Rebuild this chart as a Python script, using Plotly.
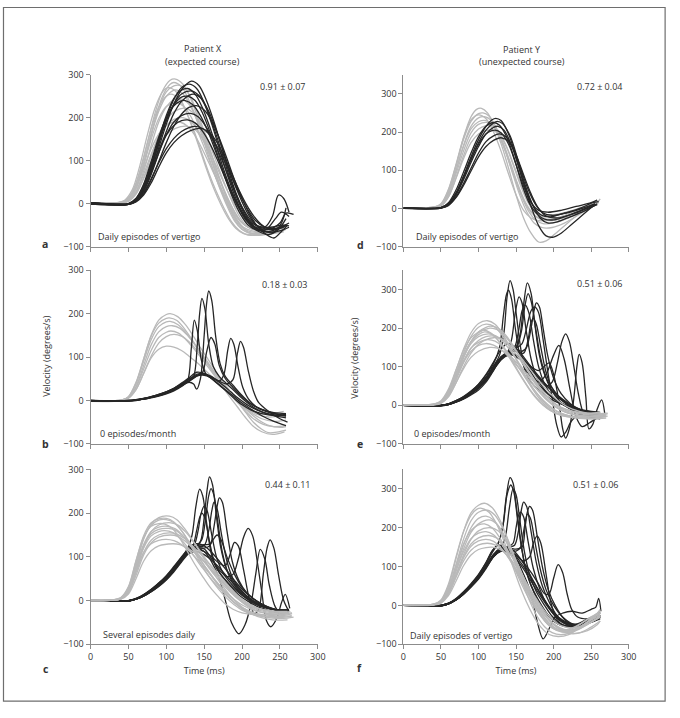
import plotly.graph_objects as go

W, H = 680, 718
def px(x): return x / W
def py(y): return 1 - y / H

GRAY = "#b9b9b9"
BLACK = "#262626"

# Each curve: flat list  t0, v0, t1, v1, ...  (time in ms, velocity in deg/s)
# ---------------- Panel a : Patient X, daily episodes of vertigo ----------------
A_GRAY = [
 [0,2, 35,2, 45,6, 55,25, 65,72, 75,140, 85,210, 95,262, 105,287, 112,290, 122,278, 132,245, 142,198, 152,145, 162,88, 172,35, 182,-8, 192,-42, 202,-62, 212,-70, 230,-70, 245,-66, 256,-62],
 [0,0, 35,1, 45,5, 55,20, 65,60, 75,125, 85,195, 95,250, 105,278, 110,282, 120,272, 130,240, 140,195, 150,142, 160,88, 170,38, 180,-5, 190,-40, 200,-60, 210,-68, 225,-70, 240,-66, 255,-60],
 [0,1, 40,2, 50,8, 60,35, 70,90, 80,160, 90,222, 100,260, 110,274, 118,275, 128,260, 138,225, 148,178, 158,125, 168,70, 178,20, 188,-20, 198,-50, 208,-66, 218,-72, 235,-70, 250,-64, 258,-60],
 [0,-1, 40,2, 50,10, 60,40, 70,95, 80,160, 90,215, 100,250, 112,265, 122,255, 132,228, 142,188, 152,140, 162,88, 172,38, 182,-5, 192,-38, 202,-58, 212,-66, 228,-66, 245,-60, 258,-55],
 [0,2, 40,3, 50,12, 60,48, 70,108, 80,175, 90,225, 100,250, 106,255, 116,245, 126,215, 136,172, 146,122, 156,72, 166,28, 176,-10, 186,-42, 196,-62, 206,-72, 220,-74, 240,-70, 255,-66],
 [0,0, 40,1, 50,6, 60,28, 70,75, 80,135, 90,190, 100,225, 110,242, 118,245, 128,235, 138,208, 148,168, 158,120, 168,70, 178,25, 188,-12, 198,-40, 208,-55, 220,-60, 240,-58, 256,-52],
 [0,1, 40,2, 50,9, 60,36, 70,88, 80,150, 90,198, 100,226, 112,235, 122,228, 132,204, 142,166, 152,122, 162,76, 172,32, 182,-4, 192,-35, 202,-55, 215,-64, 235,-62, 255,-56],
 [0,0, 40,2, 50,7, 60,28, 70,68, 80,115, 90,155, 100,182, 110,196, 122,200, 132,192, 142,170, 152,135, 162,92, 172,48, 182,8, 192,-25, 202,-48, 214,-60, 232,-62, 250,-58, 258,-50],
 [0,2, 40,3, 50,10, 60,38, 70,82, 80,128, 90,162, 100,182, 110,190, 118,190, 128,180, 138,158, 148,125, 158,88, 168,50, 178,15, 188,-18, 198,-42, 210,-56, 228,-60, 248,-55, 258,-50],
 [0,1, 40,1, 50,5, 60,22, 70,60, 80,110, 90,160, 100,195, 112,216, 125,222, 135,212, 145,185, 155,148, 165,102, 175,55, 185,12, 195,-25, 205,-50, 218,-62, 238,-60, 256,-48],
 [0,0, 35,2, 45,8, 55,32, 65,88, 75,160, 85,222, 95,260, 102,270, 112,262, 122,232, 132,188, 142,138, 152,86, 162,38, 172,-2, 182,-35, 192,-58, 202,-70, 215,-73, 235,-70, 252,-66],
 [0,0, 40,2, 50,6, 60,24, 70,58, 80,98, 90,135, 100,160, 112,175, 128,180, 138,172, 148,150, 158,118, 168,80, 178,40, 188,5, 198,-25, 208,-45, 222,-55, 240,-55, 256,-50],
]
A_BLACK = [
 [0,2, 40,-2, 50,-2, 60,8, 70,32, 80,75, 90,130, 100,185, 110,232, 120,265, 133,285, 143,275, 153,240, 163,190, 173,132, 183,72, 193,20, 203,-20, 213,-48, 223,-62, 235,-65, 248,-58, 260,-50],
 [0,0, 40,-3, 50,-1, 60,10, 70,38, 80,85, 90,142, 100,198, 110,243, 120,270, 130,278, 140,268, 150,235, 160,185, 170,128, 180,70, 190,20, 200,-20, 210,-48, 222,-65, 235,-72, 248,-60, 258,-35],
 [0,1, 40,-2, 50,0, 60,12, 70,42, 80,92, 90,150, 100,205, 110,245, 120,264, 128,268, 138,255, 148,222, 158,175, 168,122, 178,68, 188,22, 198,-15, 208,-42, 220,-58, 235,-60, 250,-45, 258,-22, 268,-25],
 [0,-1, 40,-3, 50,-2, 60,6, 70,28, 80,68, 90,118, 100,168, 110,210, 120,238, 130,252, 136,255, 146,245, 156,215, 166,170, 176,118, 186,65, 196,20, 206,-18, 216,-45, 228,-62, 240,-68, 252,-45, 258,-10],
 [0,2, 40,-2, 50,0, 60,12, 70,45, 80,98, 90,155, 100,200, 110,228, 118,238, 125,240, 135,230, 145,205, 155,168, 165,122, 175,75, 185,30, 195,-8, 205,-38, 218,-55, 230,-55, 240,-30, 248,20, 255,12, 262,-20],
 [0,0, 40,-3, 50,-2, 60,5, 70,22, 80,55, 90,98, 100,142, 110,180, 120,208, 130,224, 140,228, 150,218, 160,192, 170,152, 180,105, 190,55, 200,12, 210,-25, 220,-52, 232,-72, 242,-80, 252,-65, 260,-50],
 [0,1, 40,-2, 50,-1, 60,8, 70,32, 80,72, 90,118, 100,160, 110,190, 120,205, 132,210, 142,202, 152,180, 162,148, 172,108, 182,64, 192,22, 202,-14, 212,-40, 225,-56, 240,-60, 255,-55],
 [0,-1, 40,-3, 50,-2, 60,8, 70,35, 80,78, 90,125, 100,160, 110,182, 120,193, 128,195, 138,188, 148,168, 158,138, 168,100, 178,58, 188,18, 198,-15, 208,-38, 220,-52, 238,-55, 252,-50, 262,-52],
 [0,0, 40,-2, 50,-1, 60,6, 70,25, 80,58, 90,95, 100,128, 110,152, 120,168, 130,177, 138,180, 148,175, 158,158, 168,130, 178,95, 188,55, 198,18, 208,-15, 218,-40, 230,-55, 245,-58, 258,-50],
 [0,1, 40,-2, 50,-1, 60,9, 70,36, 80,82, 90,138, 100,192, 110,232, 120,255, 134,262, 144,250, 154,218, 164,170, 174,115, 184,58, 194,10, 204,-28, 214,-52, 226,-64, 240,-66, 252,-62, 262,-55],
 [0,0, 40,-3, 50,-2, 60,4, 70,20, 80,48, 90,85, 100,118, 110,142, 120,158, 132,170, 145,175, 155,168, 165,148, 175,115, 185,75, 195,35, 205,0, 215,-28, 225,-48, 238,-60, 250,-55, 262,-45],
 [0,1, 40,-2, 50,-1, 60,10, 70,40, 80,90, 90,145, 100,195, 110,230, 120,248, 128,250, 138,240, 148,210, 158,165, 168,112, 178,58, 188,12, 198,-25, 208,-50, 220,-62, 232,-60, 244,-35, 252,-20, 262,-30],
]

# ---------------- Panel b : Patient X, 0 episodes/month ----------------
B_GRAY = [
 [0,-2, 40,0, 50,8, 60,40, 70,95, 80,150, 90,185, 100,198, 105,200, 115,193, 125,175, 135,150, 145,122, 155,95, 165,68, 175,42, 185,18, 195,-5, 205,-28, 215,-50, 225,-65, 235,-74, 248,-72, 258,-68],
 [0,0, 40,1, 50,8, 60,38, 70,90, 80,140, 90,170, 100,181, 105,182, 115,175, 125,158, 135,135, 145,110, 155,85, 165,60, 175,38, 185,15, 195,-5, 205,-25, 215,-42, 228,-55, 242,-60, 258,-58],
 [0,-1, 40,0, 50,6, 60,32, 70,80, 80,128, 90,158, 100,170, 108,172, 118,166, 128,150, 138,128, 148,105, 158,80, 168,56, 178,35, 188,14, 198,-4, 208,-20, 220,-32, 235,-38, 250,-35, 258,-30],
 [0,0, 40,1, 50,7, 60,30, 70,72, 80,115, 90,145, 100,157, 106,160, 116,155, 126,140, 136,120, 146,98, 156,75, 166,52, 176,30, 186,10, 196,-8, 208,-22, 222,-30, 240,-30, 255,-25],
 [0,-2, 40,0, 50,5, 60,25, 70,62, 80,102, 90,132, 100,147, 110,152, 120,148, 130,135, 140,116, 150,95, 160,72, 170,50, 180,28, 190,8, 200,-10, 212,-28, 226,-42, 242,-48, 258,-45],
 [0,0, 40,1, 50,6, 60,25, 70,62, 80,98, 90,118, 100,125, 110,123, 120,115, 130,102, 140,88, 150,72, 160,55, 170,38, 180,22, 190,5, 200,-12, 210,-28, 222,-45, 236,-58, 250,-62, 258,-60],
 [0,-1, 40,0, 50,9, 60,42, 70,95, 80,148, 90,178, 100,189, 104,190, 114,184, 124,165, 134,140, 144,112, 154,85, 164,58, 174,32, 184,8, 194,-15, 204,-38, 214,-58, 226,-72, 240,-78, 256,-72],
]
B_BLACK = [
 [0,-2, 40,-1, 50,-1, 60,1, 70,3, 80,6, 90,10, 100,15, 110,22, 120,32, 128,45, 133,120, 137,185, 141,160, 146,95, 152,62, 160,50, 170,35, 180,20, 190,4, 200,-10, 212,-22, 226,-30, 242,-34, 258,-32],
 [0,-1, 40,-1, 50,0, 60,1, 70,4, 80,8, 90,12, 100,18, 110,26, 120,36, 130,45, 136,55, 141,130, 144,200, 147,235, 151,210, 156,130, 162,78, 170,55, 180,38, 190,22, 200,5, 212,-12, 226,-26, 242,-35, 258,-40],
 [0,0, 40,-2, 50,-1, 60,0, 70,3, 80,7, 90,11, 100,17, 110,25, 120,35, 130,42, 136,38, 140,26, 145,50, 150,150, 153,220, 156,252, 160,230, 165,150, 171,85, 178,55, 188,35, 198,15, 210,-5, 225,-20, 242,-30, 258,-35],
 [0,-1, 40,-2, 50,-1, 60,1, 70,4, 80,8, 90,12, 100,18, 110,27, 120,38, 130,50, 140,58, 148,65, 153,110, 159,145, 164,130, 170,80, 178,50, 188,30, 198,12, 210,-6, 225,-20, 242,-28, 258,-30],
 [0,0, 40,-1, 50,0, 60,2, 70,5, 80,9, 90,14, 100,20, 110,28, 120,38, 130,48, 140,60, 150,62, 160,55, 170,45, 176,60, 181,115, 185,143, 189,130, 195,75, 201,30, 210,0, 222,-18, 238,-28, 258,-35],
 [0,-1, 40,-2, 50,-1, 60,1, 70,3, 80,7, 90,11, 100,17, 110,24, 120,34, 130,45, 140,56, 150,58, 160,52, 170,44, 180,38, 188,48, 194,110, 198,136, 202,122, 208,70, 215,22, 222,-5, 235,-25, 250,-42, 260,-50],
 [0,0, 40,-2, 50,-1, 60,1, 70,4, 80,8, 90,13, 100,20, 110,28, 120,40, 130,52, 140,65, 150,62, 160,50, 170,36, 180,22, 190,8, 200,-6, 212,-20, 226,-35, 242,-48, 258,-58],
 [0,-2, 40,-1, 50,0, 60,2, 70,5, 80,9, 90,14, 100,20, 110,26, 120,34, 130,44, 145,60, 155,58, 165,48, 175,35, 185,20, 195,5, 207,-10, 220,-22, 238,-32, 258,-36],
]

# ---------------- Panel c : Patient X, several episodes daily ----------------
C_GRAY = [
 [0,0, 30,1, 40,5, 50,25, 60,80, 70,140, 80,175, 90,190, 104,193, 114,185, 124,165, 134,140, 144,112, 154,84, 164,58, 174,34, 184,12, 194,-6, 206,-22, 220,-34, 240,-40, 260,-40, 268,-38],
 [0,1, 30,2, 40,6, 50,28, 60,85, 70,142, 80,172, 90,184, 100,185, 110,178, 120,160, 130,135, 140,108, 150,80, 160,55, 170,32, 180,12, 190,-5, 202,-20, 218,-32, 238,-38, 258,-38, 266,-35],
 [0,0, 30,1, 40,4, 50,20, 60,68, 70,122, 80,158, 90,173, 106,178, 116,172, 126,156, 136,134, 146,110, 156,85, 166,62, 176,40, 186,20, 196,2, 208,-14, 224,-26, 244,-32, 262,-30],
 [0,1, 30,2, 40,6, 50,26, 60,78, 70,128, 80,158, 90,168, 102,170, 112,164, 122,148, 132,125, 142,100, 152,76, 162,52, 172,30, 182,10, 192,-8, 204,-24, 220,-36, 240,-44, 260,-44],
 [0,0, 30,1, 40,5, 50,24, 60,74, 70,120, 80,148, 90,158, 98,160, 108,156, 118,142, 128,122, 138,98, 148,74, 158,52, 168,32, 178,14, 188,-2, 200,-16, 216,-28, 236,-34, 256,-34, 266,-30],
 [0,1, 30,1, 40,4, 50,18, 60,58, 70,104, 80,132, 90,145, 105,150, 115,147, 125,136, 135,120, 145,100, 155,80, 165,60, 175,40, 185,22, 195,6, 207,-10, 222,-22, 242,-28, 262,-28],
 [0,0, 30,1, 40,5, 50,22, 60,68, 70,110, 80,130, 90,138, 100,140, 110,137, 120,128, 130,114, 140,96, 150,76, 160,56, 170,36, 180,18, 190,2, 202,-12, 218,-24, 238,-30, 258,-30, 266,-28],
 [0,0, 30,1, 40,3, 50,15, 60,50, 70,90, 80,114, 90,125, 108,130, 118,128, 128,120, 138,108, 148,92, 158,74, 168,56, 178,38, 188,20, 198,4, 210,-10, 226,-20, 246,-26, 264,-26],
 [0,1, 30,1, 40,6, 50,30, 60,90, 70,148, 80,178, 90,187, 100,188, 110,180, 120,160, 130,132, 140,102, 150,72, 160,46, 170,24, 180,5, 190,-10, 200,-22, 215,-32, 235,-36, 255,-36, 265,-35],
 [0,0, 30,1, 40,5, 50,24, 60,75, 70,125, 80,153, 90,163, 103,165, 113,160, 123,146, 133,126, 143,104, 153,82, 163,60, 173,40, 183,22, 193,6, 205,-8, 220,-18, 240,-24, 260,-25],
 [0,1, 30,2, 40,7, 50,32, 60,92, 70,145, 80,170, 90,176, 98,175, 108,165, 118,142, 128,112, 138,82, 148,55, 158,30, 168,10, 178,-8, 188,-20, 200,-28, 218,-32, 240,-32, 262,-30],
 [0,0, 30,1, 40,4, 50,20, 60,64, 70,110, 80,138, 90,150, 104,155, 114,152, 124,142, 134,126, 144,108, 154,90, 164,70, 174,50, 184,30, 194,12, 206,-4, 222,-18, 242,-26, 262,-28],
]
C_BLACK = [
 [0,0, 40,-2, 50,-1, 60,4, 70,12, 80,24, 90,38, 100,54, 110,74, 120,96, 130,115, 138,122, 145,135, 150,190, 154,255, 157,283, 161,265, 166,195, 172,120, 180,70, 190,40, 200,20, 212,2, 226,-12, 242,-20, 260,-22],
 [0,1, 40,-1, 50,0, 60,5, 70,14, 80,26, 90,40, 100,57, 110,78, 120,100, 128,118, 134,150, 139,215, 144,255, 148,240, 153,180, 159,110, 166,75, 176,50, 186,30, 196,12, 208,-2, 222,-15, 240,-25, 258,-28],
 [0,0, 40,-2, 50,-1, 60,3, 70,11, 80,22, 90,36, 100,52, 110,72, 120,94, 130,112, 140,125, 147,140, 152,190, 156,240, 159,256, 163,240, 168,180, 174,110, 182,60, 192,30, 204,8, 218,-8, 234,-18, 250,-22, 262,-20],
 [0,0, 40,-2, 50,-1, 60,4, 70,13, 80,25, 90,40, 100,56, 110,76, 120,98, 130,115, 140,125, 150,128, 158,130, 163,170, 167,215, 170,235, 174,225, 180,160, 187,90, 196,45, 206,18, 218,0, 232,-14, 248,-22, 262,-22],
 [0,1, 40,-1, 50,0, 60,4, 70,12, 80,23, 90,37, 100,53, 110,73, 120,95, 130,113, 140,122, 150,126, 156,160, 160,205, 163,225, 167,210, 173,150, 180,90, 188,50, 198,25, 210,5, 225,-10, 242,-20, 260,-22],
 [0,0, 40,-2, 50,-1, 60,3, 70,10, 80,21, 90,35, 100,51, 110,70, 120,92, 130,118, 137,128, 142,160, 146,200, 150,216, 154,205, 160,150, 167,95, 176,60, 186,38, 196,20, 208,4, 222,-10, 240,-20, 258,-22],
 [0,0, 40,-2, 50,-1, 60,3, 70,11, 80,22, 90,36, 100,52, 110,72, 120,94, 130,112, 140,120, 150,118, 160,95, 170,70, 180,55, 188,60, 195,95, 202,145, 208,165, 214,148, 220,90, 226,20, 232,-45, 238,-60, 246,-40, 252,-5, 257,14, 263,-18],
 [0,1, 40,-1, 50,0, 60,4, 70,12, 80,24, 90,38, 100,55, 110,75, 120,97, 130,114, 140,120, 150,112, 160,88, 170,50, 178,0, 186,-50, 196,-76, 204,-55, 212,-5, 218,60, 224,117, 230,95, 236,35, 244,-15, 252,-30, 260,-28],
 [0,0, 40,-2, 50,-1, 60,3, 70,10, 80,20, 90,33, 100,48, 110,68, 120,90, 130,110, 140,118, 150,112, 160,100, 170,85, 178,80, 185,110, 190,133, 195,125, 202,70, 210,0, 216,-30, 222,-20, 228,60, 233,120, 237,139, 242,120, 248,60, 255,0, 262,-25],
 [0,0, 40,-2, 50,-1, 60,4, 70,12, 80,24, 90,38, 100,54, 110,74, 120,96, 130,122, 140,130, 150,125, 160,110, 170,90, 180,68, 190,46, 200,26, 212,8, 226,-8, 242,-20, 258,-25],
 [0,1, 40,-1, 50,0, 60,3, 70,10, 80,20, 90,32, 100,47, 110,66, 120,88, 130,108, 140,112, 150,105, 160,92, 170,75, 180,55, 190,36, 200,18, 212,2, 228,-12, 245,-22, 260,-25],
 [0,0, 40,-2, 50,-1, 60,3, 70,11, 80,22, 90,36, 100,52, 110,72, 120,95, 128,112, 135,125, 140,160, 144,190, 147,200, 151,188, 157,135, 164,85, 172,60, 182,40, 194,20, 206,4, 220,-10, 240,-20, 258,-22],
 [0,1, 40,-1, 50,0, 60,4, 70,12, 80,23, 90,37, 100,53, 110,73, 120,95, 130,112, 140,120, 150,120, 157,125, 162,140, 167,150, 172,140, 180,100, 190,60, 200,30, 212,8, 226,-8, 244,-20, 260,-24],
]

# ---------------- Panel d : Patient Y, daily episodes of vertigo ----------------
D_GRAY = [
 [0,2, 40,3, 50,10, 60,45, 70,110, 80,185, 90,240, 98,260, 104,262, 112,250, 120,220, 130,170, 140,105, 150,35, 160,-25, 170,-65, 180,-88, 190,-85, 200,-70, 215,-45, 230,-20, 245,0, 258,10],
 [0,1, 40,3, 50,12, 60,50, 70,115, 80,185, 90,232, 100,245, 110,235, 120,200, 130,150, 140,90, 150,35, 160,-5, 170,-25, 180,-32, 195,-30, 215,-20, 235,-5, 250,8, 260,15],
 [0,0, 40,2, 50,8, 60,38, 70,98, 80,165, 90,215, 100,237, 108,240, 116,232, 126,200, 136,150, 146,92, 156,38, 166,-5, 176,-30, 186,-40, 200,-38, 220,-25, 240,-5, 255,10, 260,20],
 [0,2, 40,3, 50,9, 60,40, 70,100, 80,162, 90,208, 100,227, 110,230, 120,215, 130,178, 140,128, 150,72, 160,22, 170,-10, 180,-25, 195,-28, 215,-18, 235,-2, 250,12, 258,22],
 [0,1, 40,2, 50,6, 60,30, 70,80, 80,138, 90,185, 100,208, 110,217, 116,218, 126,205, 136,168, 146,115, 156,60, 166,15, 176,-12, 186,-22, 200,-20, 220,-10, 240,2, 256,15],
 [0,0, 40,2, 50,7, 60,30, 70,78, 80,130, 90,172, 100,195, 110,204, 118,205, 128,192, 138,158, 148,108, 158,55, 168,12, 178,-12, 188,-18, 205,-15, 225,-5, 245,8, 258,12],
 [0,2, 40,3, 50,11, 60,48, 70,112, 80,180, 90,228, 100,248, 106,250, 114,242, 124,210, 134,160, 144,100, 154,40, 164,-8, 174,-38, 184,-50, 198,-50, 215,-38, 235,-15, 250,5, 260,20],
 [0,1, 40,2, 50,8, 60,35, 70,90, 80,150, 90,198, 100,220, 112,225, 122,212, 132,175, 142,122, 152,65, 162,18, 172,-12, 182,-28, 198,-32, 218,-22, 238,-8, 255,8, 262,25],
]
D_BLACK = [
 [0,1, 40,0, 50,2, 60,12, 70,40, 80,85, 90,135, 100,180, 110,215, 118,232, 123,236, 130,230, 140,195, 150,135, 160,65, 170,5, 180,-45, 190,-72, 200,-75, 210,-65, 225,-40, 240,-15, 252,5, 258,12],
 [0,0, 40,0, 50,2, 60,15, 70,48, 80,95, 90,145, 100,188, 110,215, 120,225, 128,218, 138,185, 148,128, 158,62, 168,12, 178,-15, 188,-28, 200,-30, 220,-18, 240,-2, 255,12],
 [0,1, 40,-1, 50,1, 60,10, 70,35, 80,75, 90,120, 100,162, 110,195, 120,212, 126,215, 134,205, 144,165, 154,105, 164,45, 174,2, 184,-18, 196,-22, 215,-12, 235,0, 252,15, 260,18],
 [0,0, 40,0, 50,2, 60,12, 70,40, 80,82, 90,128, 100,168, 110,195, 122,205, 130,198, 140,168, 150,115, 160,58, 170,15, 180,-5, 192,-10, 210,-5, 230,5, 250,15, 258,22],
 [0,1, 40,0, 50,1, 60,8, 70,30, 80,65, 90,105, 100,145, 110,175, 120,190, 128,195, 136,188, 146,158, 156,105, 166,50, 176,10, 186,-12, 198,-18, 218,-12, 238,0, 255,12],
 [0,0, 40,0, 50,2, 60,12, 70,38, 80,80, 90,128, 100,172, 110,205, 120,224, 125,228, 132,222, 142,190, 152,130, 162,62, 172,10, 182,-25, 192,-38, 205,-35, 222,-22, 240,-8, 256,10],
 [0,1, 40,-1, 50,1, 60,8, 70,28, 80,60, 90,98, 100,135, 110,162, 120,178, 130,185, 140,175, 150,140, 160,88, 170,38, 180,0, 190,-20, 205,-25, 225,-15, 245,0, 258,10],
]

# ---------------- Panel e : Patient Y, 0 episodes/month ----------------
E_GRAY = [
 [0,1, 40,3, 50,10, 60,38, 70,90, 80,145, 90,188, 100,212, 112,219, 122,210, 132,185, 142,150, 152,112, 162,75, 172,42, 182,15, 192,-5, 202,-18, 215,-26, 230,-30, 250,-30, 270,-28],
 [0,0, 40,2, 50,9, 60,34, 70,82, 80,135, 90,178, 100,202, 110,210, 120,205, 130,185, 140,155, 150,120, 160,85, 170,52, 180,25, 190,3, 200,-12, 215,-24, 232,-30, 252,-30, 270,-25],
 [0,1, 40,2, 50,8, 60,30, 70,75, 80,125, 90,165, 100,188, 115,200, 125,196, 135,180, 145,155, 155,125, 165,95, 175,65, 185,38, 195,15, 205,-2, 218,-15, 235,-22, 255,-25, 272,-22],
 [0,0, 40,3, 50,10, 60,36, 70,82, 80,130, 90,165, 100,183, 108,190, 118,184, 128,165, 138,138, 148,105, 158,72, 168,42, 178,18, 188,-2, 198,-16, 210,-26, 228,-32, 250,-33, 270,-30],
 [0,1, 40,2, 50,7, 60,26, 70,65, 80,110, 90,148, 100,168, 110,178, 118,180, 128,175, 138,160, 148,138, 158,110, 168,82, 178,55, 188,30, 198,10, 210,-5, 225,-15, 245,-20, 262,-18],
 [0,0, 40,2, 50,8, 60,30, 70,72, 80,115, 90,148, 100,163, 112,170, 122,166, 132,152, 142,130, 152,102, 162,72, 172,45, 182,22, 192,3, 202,-12, 215,-24, 232,-32, 252,-35, 270,-33],
 [0,1, 40,2, 50,9, 60,32, 70,72, 80,112, 90,140, 100,155, 110,160, 120,156, 130,144, 140,126, 150,105, 160,82, 170,58, 180,36, 190,16, 200,0, 212,-14, 228,-24, 248,-28, 268,-25],
 [0,0, 40,1, 50,6, 60,24, 70,58, 80,95, 90,124, 100,140, 115,150, 125,148, 135,138, 145,122, 155,102, 165,80, 175,58, 185,36, 195,16, 205,0, 218,-12, 235,-20, 255,-22, 272,-20],
 [0,0, 40,2, 50,7, 60,28, 70,70, 80,122, 90,165, 100,190, 110,202, 116,205, 126,200, 136,182, 146,155, 156,122, 166,88, 176,55, 186,28, 196,8, 206,-8, 220,-20, 238,-28, 258,-30, 272,-28],
 [0,1, 40,3, 50,12, 60,42, 70,92, 80,142, 90,175, 100,190, 106,195, 116,188, 126,168, 136,140, 146,108, 156,76, 166,46, 176,20, 186,0, 196,-14, 208,-25, 225,-32, 245,-35, 262,-34],
 [0,0, 40,1, 50,5, 60,22, 70,58, 80,100, 90,135, 100,158, 110,170, 120,175, 130,172, 140,160, 150,140, 160,115, 170,90, 180,65, 190,42, 200,22, 210,6, 225,-10, 245,-20, 265,-22],
 [0,1, 40,2, 50,8, 60,32, 70,78, 80,125, 90,160, 100,178, 113,185, 123,180, 133,164, 143,140, 153,112, 163,82, 173,55, 183,30, 193,10, 203,-5, 216,-18, 232,-26, 252,-28, 270,-25],
]
E_BLACK = [
 [0,1, 40,-2, 50,-1, 60,3, 70,10, 80,20, 90,33, 100,50, 110,72, 120,102, 128,130, 134,190, 138,280, 142,323, 146,300, 150,240, 156,150, 162,90, 170,60, 180,40, 190,25, 200,12, 215,0, 230,-10, 245,-15, 260,-20],
 [0,0, 40,-1, 50,0, 60,4, 70,12, 80,22, 90,36, 100,54, 110,78, 120,108, 128,150, 133,230, 137,285, 140,298, 144,275, 149,200, 155,130, 162,95, 172,70, 182,50, 192,30, 202,15, 215,2, 230,-8, 248,-15, 262,-18],
 [0,-1, 40,-2, 50,-1, 60,2, 70,9, 80,18, 90,30, 100,45, 110,66, 120,95, 130,120, 138,135, 144,170, 149,240, 154,281, 158,265, 163,200, 170,120, 178,70, 188,40, 198,20, 210,5, 225,-10, 240,-20, 258,-25],
 [0,0, 40,-2, 50,-1, 60,3, 70,10, 80,19, 90,31, 100,47, 110,68, 120,96, 130,122, 140,140, 148,145, 155,180, 160,260, 165,317, 170,290, 175,210, 181,130, 188,80, 196,50, 206,25, 218,5, 232,-10, 248,-20, 262,-25],
 [0,1, 40,-1, 50,0, 60,4, 70,11, 80,21, 90,34, 100,50, 110,72, 120,100, 130,125, 140,138, 150,148, 157,190, 162,260, 166,289, 170,270, 176,200, 183,120, 192,60, 202,25, 214,0, 228,-15, 244,-25, 260,-28],
 [0,0, 40,-2, 50,-1, 60,2, 70,8, 80,17, 90,29, 100,44, 110,64, 120,92, 130,118, 140,136, 148,150, 154,200, 158,245, 162,260, 167,240, 173,170, 180,100, 188,55, 198,25, 210,5, 225,-10, 242,-22, 260,-28],
 [0,0, 40,-2, 50,0, 60,3, 70,10, 80,20, 90,32, 100,48, 110,70, 120,98, 130,124, 140,140, 150,145, 158,140, 164,150, 170,200, 174,245, 177,265, 181,255, 186,200, 192,130, 200,70, 210,30, 222,5, 236,-12, 250,-22, 262,-25],
 [0,1, 40,-1, 50,0, 60,3, 70,10, 80,19, 90,31, 100,46, 110,66, 120,94, 130,120, 140,135, 150,140, 160,120, 170,95, 180,70, 190,50, 198,60, 205,110, 211,165, 216,185, 221,165, 227,100, 233,30, 240,-20, 248,-30, 258,-28],
 [0,0, 40,-2, 50,-1, 60,2, 70,9, 80,18, 90,30, 100,45, 110,65, 120,92, 130,118, 140,130, 150,128, 160,115, 170,100, 180,90, 187,100, 194,110, 200,80, 207,10, 212,-60, 216,-85, 221,-60, 227,20, 231,100, 234,132, 238,110, 243,20, 247,-61, 252,-50, 258,-10, 264,14, 268,-20],
 [0,1, 40,-1, 50,0, 60,3, 70,10, 80,20, 90,32, 100,48, 110,70, 120,97, 130,122, 140,135, 150,130, 160,110, 170,85, 180,60, 190,80, 200,130, 207,155, 214,120, 222,40, 230,-30, 238,-55, 248,-45, 260,-30],
 [0,0, 40,-2, 50,-1, 60,3, 70,10, 80,20, 90,33, 100,49, 110,71, 120,99, 130,125, 140,140, 150,148, 158,160, 164,200, 170,245, 175,255, 180,240, 186,170, 192,90, 198,20, 204,-50, 210,-82, 216,-70, 224,-40, 234,-25, 248,-28, 262,-30],
 [0,0, 40,-2, 50,0, 60,4, 70,12, 80,23, 90,37, 100,55, 110,80, 120,112, 130,145, 138,160, 146,155, 156,135, 166,110, 176,85, 186,62, 196,42, 206,25, 218,8, 232,-8, 248,-18, 262,-22],
 [0,1, 40,-2, 50,-1, 60,2, 70,8, 80,16, 90,27, 100,40, 110,60, 120,90, 130,125, 138,135, 146,130, 156,118, 166,100, 176,80, 186,60, 196,40, 206,20, 218,2, 232,-15, 248,-30, 262,-35],
 [0,0, 40,-2, 50,-1, 60,3, 70,10, 80,20, 90,32, 100,48, 110,70, 120,98, 130,122, 140,138, 150,140, 160,135, 166,170, 170,215, 173,225, 177,210, 183,150, 190,85, 198,45, 208,20, 220,0, 235,-15, 250,-22, 262,-25],
]

# ---------------- Panel f : Patient Y, daily episodes of vertigo ----------------
F_GRAY = [
 [0,1, 40,3, 50,12, 60,50, 70,120, 80,190, 90,238, 100,258, 108,263, 118,252, 128,222, 138,175, 148,120, 158,62, 168,12, 178,-28, 188,-55, 198,-70, 210,-75, 225,-68, 240,-50, 252,-30, 262,-15],
 [0,0, 40,2, 50,10, 60,42, 70,105, 80,170, 90,218, 100,240, 112,245, 122,232, 132,200, 142,155, 152,105, 162,55, 172,12, 182,-22, 192,-48, 202,-62, 214,-66, 230,-55, 245,-35, 258,-20, 262,-10],
 [0,1, 40,2, 50,9, 60,38, 70,95, 80,155, 90,200, 100,224, 110,230, 120,220, 130,192, 140,150, 150,102, 160,55, 170,15, 180,-18, 190,-42, 200,-58, 212,-64, 228,-55, 244,-38, 258,-22, 262,-12],
 [0,0, 40,2, 50,8, 60,34, 70,88, 80,145, 90,188, 100,210, 114,220, 124,210, 134,182, 144,140, 154,94, 164,50, 174,12, 184,-20, 194,-45, 204,-60, 216,-66, 232,-58, 248,-40, 262,-25],
 [0,1, 40,3, 50,11, 60,44, 70,102, 80,158, 90,193, 100,207, 108,210, 118,200, 128,175, 138,138, 148,95, 158,52, 168,15, 178,-15, 188,-40, 198,-58, 210,-68, 225,-65, 240,-50, 255,-30, 262,-18],
 [0,0, 40,2, 50,7, 60,30, 70,78, 80,130, 90,170, 100,192, 116,200, 126,192, 136,168, 146,132, 156,90, 166,48, 176,12, 186,-18, 196,-42, 206,-58, 218,-66, 234,-60, 250,-42, 262,-28],
 [0,1, 40,2, 50,9, 60,36, 70,88, 80,138, 90,172, 100,186, 110,190, 120,182, 130,160, 140,128, 150,90, 160,52, 170,18, 180,-12, 190,-38, 200,-56, 212,-68, 228,-66, 244,-50, 258,-32, 262,-20],
 [0,0, 40,2, 50,7, 60,30, 70,76, 80,124, 90,158, 100,174, 114,180, 124,174, 134,155, 144,126, 154,92, 164,56, 174,22, 184,-8, 194,-35, 204,-55, 216,-70, 232,-72, 248,-58, 262,-40],
 [0,1, 40,2, 50,8, 60,32, 70,78, 80,122, 90,152, 100,166, 110,170, 120,165, 130,148, 140,122, 150,90, 160,56, 170,24, 180,-5, 190,-30, 200,-50, 212,-65, 228,-72, 245,-65, 258,-50, 262,-40],
 [0,0, 40,2, 50,8, 60,30, 70,72, 80,114, 90,142, 100,156, 112,160, 122,156, 132,142, 142,118, 152,88, 162,55, 172,22, 182,-8, 192,-32, 202,-50, 214,-62, 230,-62, 246,-48, 262,-30],
 [0,1, 40,3, 50,14, 60,55, 70,125, 80,190, 90,232, 98,248, 104,250, 114,240, 124,210, 134,165, 144,110, 154,55, 164,8, 174,-30, 184,-58, 194,-75, 206,-80, 220,-75, 236,-55, 250,-35, 262,-20],
 [0,0, 40,1, 50,6, 60,25, 70,62, 80,102, 90,130, 100,144, 110,149, 118,150, 128,145, 138,130, 148,106, 158,76, 168,44, 178,14, 188,-14, 198,-36, 210,-52, 226,-58, 244,-48, 262,-30],
]
F_BLACK = [
 [0,0, 40,-2, 50,-1, 60,5, 70,16, 80,32, 90,52, 100,75, 110,105, 118,135, 126,160, 132,200, 137,280, 142,329, 146,315, 150,260, 156,170, 162,100, 170,50, 180,10, 190,-20, 200,-40, 212,-52, 228,-50, 245,-35, 262,-20],
 [0,1, 40,-1, 50,0, 60,6, 70,18, 80,35, 90,56, 100,80, 110,110, 118,140, 126,158, 133,210, 138,285, 143,310, 147,292, 152,220, 158,140, 165,80, 174,35, 184,0, 194,-28, 206,-48, 220,-56, 236,-48, 252,-30, 262,-18],
 [0,0, 40,-2, 50,-1, 60,4, 70,15, 80,30, 90,50, 100,72, 110,100, 120,128, 130,150, 136,180, 141,250, 146,300, 150,285, 155,220, 161,140, 168,80, 177,35, 188,0, 198,-28, 210,-48, 225,-55, 242,-45, 262,-25],
 [0,0, 40,-2, 50,-1, 60,4, 70,14, 80,29, 90,48, 100,70, 110,98, 120,130, 130,145, 140,150, 148,155, 153,190, 157,245, 160,266, 164,255, 170,190, 177,110, 185,50, 195,5, 206,-30, 220,-50, 236,-50, 252,-35, 262,-25],
 [0,1, 40,-1, 50,0, 60,5, 70,15, 80,30, 90,49, 100,71, 110,97, 120,125, 130,142, 140,148, 150,145, 158,150, 162,200, 165,240, 168,255, 172,245, 178,180, 185,100, 193,40, 202,0, 214,-35, 228,-52, 244,-45, 262,-30],
 [0,0, 40,-2, 50,-1, 60,4, 70,15, 80,31, 90,51, 100,74, 110,102, 120,132, 130,148, 140,152, 146,160, 150,200, 153,230, 156,240, 160,228, 166,165, 173,95, 182,40, 192,0, 204,-32, 218,-50, 234,-52, 250,-40, 262,-28],
 [0,1, 40,-1, 50,0, 60,5, 70,16, 80,32, 90,52, 100,74, 110,100, 120,128, 130,142, 140,145, 150,140, 156,150, 160,190, 163,222, 165,235, 169,225, 175,165, 182,95, 190,40, 200,0, 212,-30, 226,-48, 242,-48, 262,-32],
 [0,0, 40,-2, 50,-1, 60,4, 70,14, 80,29, 90,48, 100,70, 110,98, 120,126, 130,140, 140,140, 150,128, 160,115, 168,125, 173,160, 178,179, 183,160, 190,80, 196,10, 204,-35, 214,-52, 228,-55, 245,-42, 262,-30],
 [0,1, 40,-1, 50,0, 60,5, 70,15, 80,31, 90,50, 100,72, 110,100, 120,128, 130,140, 140,135, 150,120, 160,80, 170,30, 178,-40, 186,-86, 194,-60, 202,-30, 212,-20, 224,-15, 238,-20, 250,-10, 256,-5, 260,18, 263,-15],
 [0,0, 40,-2, 50,-1, 60,4, 70,14, 80,30, 90,49, 100,71, 110,99, 120,128, 130,140, 140,140, 150,130, 160,110, 170,85, 180,55, 188,30, 194,30, 200,70, 206,105, 212,85, 218,30, 224,-10, 232,-30, 245,-35, 262,-30],
 [0,1, 40,-1, 50,0, 60,5, 70,16, 80,33, 90,54, 100,78, 110,110, 118,140, 126,155, 134,152, 144,135, 154,110, 164,82, 174,50, 184,20, 194,-8, 204,-30, 216,-45, 232,-48, 248,-38, 262,-28],
 [0,0, 40,-2, 50,-1, 60,4, 70,14, 80,29, 90,47, 100,68, 110,95, 120,125, 130,140, 140,138, 150,125, 160,100, 170,70, 180,38, 190,8, 200,-18, 212,-38, 228,-50, 245,-45, 262,-30],
 [0,1, 40,-1, 50,0, 60,4, 70,15, 80,30, 90,49, 100,72, 110,100, 120,128, 128,145, 136,150, 144,145, 154,125, 164,95, 174,60, 184,25, 194,-5, 204,-28, 216,-45, 232,-52, 248,-45, 262,-35],
]

TITLES_X = ["Patient X", "(expected course)"]
TITLES_Y = ["Patient Y", "(unexpected course)"]
STATS = {"a": "0.91 ± 0.07", "b": "0.18 ± 0.03", "c": "0.44 ± 0.11",
         "d": "0.72 ± 0.04", "e": "0.51 ± 0.06", "f": "0.51 ± 0.06"}
CONDITIONS = {"a": "Daily episodes of vertigo", "b": "0 episodes/month", "c": "Several episodes daily",
              "d": "Daily episodes of vertigo", "e": "0 episodes/month", "f": "Daily episodes of vertigo"}
X_TICKS = [0, 50, 100, 150, 200, 250, 300]
Y_TICKS = [-100, 0, 100, 200, 300]

FONT = "Open Sans, Noto Sans, Arial, sans-serif"
TXT = "#333333"
AX = "#8c8c8c"
FS = 9

# panel key -> (axis number, column, row, gray, black, black drawn first?)
PANELS = [
    ("a", 1, 0, 0, A_GRAY, A_BLACK, False),
    ("b", 2, 0, 1, B_GRAY, B_BLACK, False),
    ("c", 3, 0, 2, C_GRAY, C_BLACK, True),
    ("d", 4, 1, 0, D_GRAY, D_BLACK, False),
    ("e", 5, 1, 1, E_GRAY, E_BLACK, True),
    ("f", 6, 1, 2, F_GRAY, F_BLACK, True),
]

COL_X = [(89, 320), (407, 636)]
ROW_Y = [(69, 244), (268, 445), (471, 649)]
Y_TOP = [300, 350]

fig = go.Figure()

def add_curves(curves, color, n):
    suffix = "" if n == 1 else str(n)
    for c in curves:
        fig.add_trace(go.Scatter(
            x=c[0::2], y=c[1::2], mode="lines",
            line=dict(color=color, width=1.3, shape="spline", smoothing=0.9),
            xaxis="x" + suffix, yaxis="y" + suffix,
            showlegend=False, hoverinfo="skip"))

layout_axes = {}
for key, n, col, row, gray, black, black_first in PANELS:
    if black_first:
        add_curves(black, BLACK, n)
        add_curves(gray, GRAY, n)
    else:
        add_curves(gray, GRAY, n)
        add_curves(black, BLACK, n)
    suffix = "" if n == 1 else str(n)
    x0, x1 = COL_X[col]
    ytop, ybot = ROW_Y[row]
    layout_axes["xaxis" + suffix] = dict(
        domain=[px(x0), px(x1)], anchor="y" + suffix, range=[0, 300],
        tickvals=X_TICKS, showticklabels=(row == 2),
        showline=True, linecolor=AX, linewidth=1, ticks="outside", ticklen=4,
        tickcolor=AX, tickwidth=1, showgrid=False, zeroline=False,
        tickfont=dict(size=FS, color=TXT, family=FONT),
        title=dict(text="Time (ms)" if row == 2 else "", font=dict(size=FS, color=TXT, family=FONT), standoff=5))
    layout_axes["yaxis" + suffix] = dict(
        domain=[py(ybot), py(ytop)], anchor="x" + suffix, range=[-100, Y_TOP[col]],
        tickvals=Y_TICKS, showline=True, linecolor=AX, linewidth=1, ticks="outside",
        ticklen=4, tickcolor=AX, tickwidth=1, showgrid=False, zeroline=False,
        tickfont=dict(size=FS, color=TXT, family=FONT))

annotations = []
def note(text, x, y, size=FS, xanchor="center", bold=False, angle=0):
    annotations.append(dict(
        text=("<b>%s</b>" % text) if bold else text, x=px(x), y=py(y), xref="paper", yref="paper",
        showarrow=False, xanchor=xanchor, yanchor="middle", textangle=angle,
        font=dict(size=size, color=TXT, family=FONT)))

note(TITLES_X[0], 203, 42)
note(TITLES_X[1], 203, 55)
note(TITLES_Y[0], 528, 43)
note(TITLES_Y[1], 528, 56)

STAT_POS = {"a": (284, 81), "b": (286, 283), "c": (289, 486), "d": (606, 81), "e": (606, 282), "f": (602, 486)}
COND_POS = {"a": (95, 234), "b": (97, 434), "c": (100, 639), "d": (418, 234), "e": (416, 434), "f": (412, 640)}
LETTER_POS = {"a": (43, 241), "b": (43, 445), "c": (44, 674), "d": (363, 242), "e": (363, 445), "f": (362, 673)}
for k in "abcdef":
    note(STATS[k], *STAT_POS[k])
    note(CONDITIONS[k], *COND_POS[k], xanchor="left")
    note(k, *LETTER_POS[k], size=10.5, bold=True)

note("Velocity (degrees/s)", 44, 355, angle=-90)
note("Velocity (degrees/s)", 357, 357, angle=-90)

fig.update_layout(
    width=W, height=H, margin=dict(l=0, r=0, t=0, b=0),
    paper_bgcolor="white", plot_bgcolor="white",
    annotations=annotations, hovermode=False,
    shapes=[dict(type="rect", xref="paper", yref="paper", x0=px(0.5), x1=px(673), y0=py(707), y1=py(0.5),
                 line=dict(color="#6e6e6e", width=1.2), fillcolor="rgba(0,0,0,0)", layer="below")],
    **layout_axes)

fig.write_html("out.html", config={"displayModeBar": False, "staticPlot": True},
               post_script="document.body.style.margin='0px';document.body.style.overflow='hidden';")
